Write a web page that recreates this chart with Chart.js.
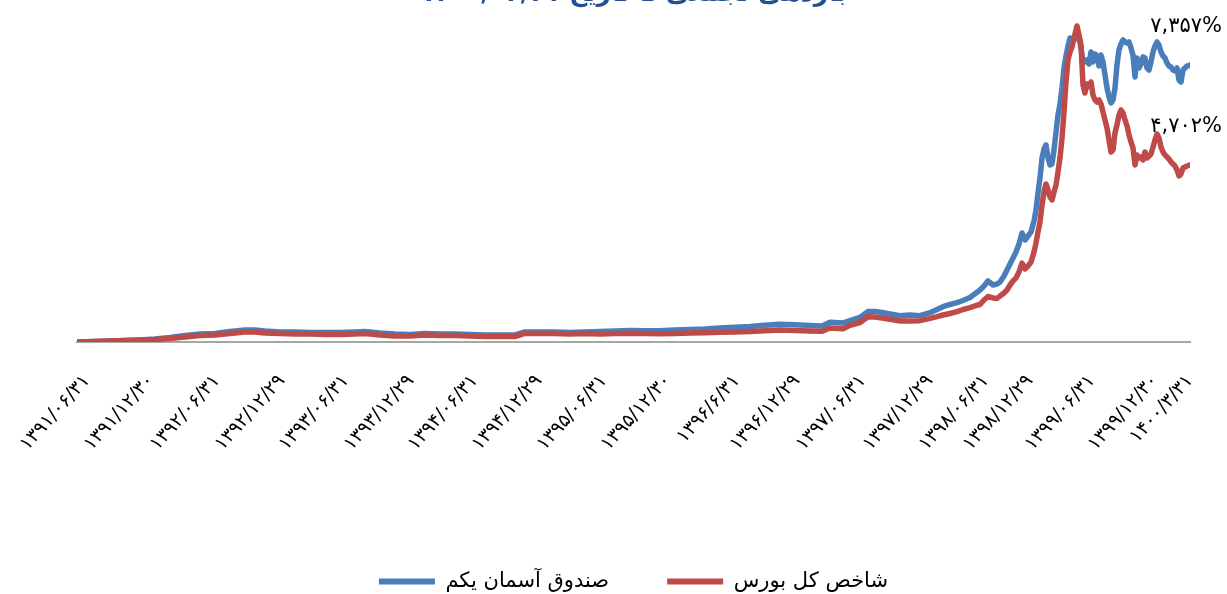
<!DOCTYPE html>
<html lang="fa">
<head>
<meta charset="utf-8">
<title>بازدهی صندوق آسمان یکم و شاخص کل بورس</title>
<script src="https://cdn.jsdelivr.net/npm/chart.js"></script>
<style>
    html, body { margin: 0; padding: 0; background: #fff; overflow: hidden; }
    .wrap { position: relative; width: 1227px; height: 594px; overflow: hidden; }
    #myChart { position: absolute; left: 0; top: -18px; }
</style>
</head>
<body>
<div class="wrap">
    <canvas id="myChart" width="1227" height="620"></canvas>
</div>
<script>
// Data (sample index along the period, cumulative return in %)
const idx = [
    0, 18, 33, 48, 63, 78, 93, 108, 123, 138,
    153, 168, 178, 188, 203, 218, 233, 248, 263, 278,
    288, 303, 318, 333, 348, 363, 378, 393, 408, 423,
    438, 448, 463, 478, 493, 508, 523, 538, 553, 568,
    583, 598, 613, 628, 643, 658, 673, 688, 703, 718,
    733, 745, 753, 766, 773, 783, 791, 798, 805, 813,
    823, 833, 843, 853, 860, 866, 873, 880, 886, 893,
    899, 903, 907, 911, 916, 920, 923, 927, 930, 933,
    936, 939, 942, 945, 948, 951, 954, 957, 959, 961,
    963, 965, 967, 969, 971, 973, 975, 977, 979, 981,
    983, 985, 987, 989, 991, 993, 995, 997, 999, 1000,
    1002, 1004, 1006, 1008, 1010, 1012, 1014, 1016, 1018, 1020,
    1022, 1024, 1026, 1028, 1030, 1032, 1034, 1036, 1038, 1040,
    1042, 1044, 1046, 1048, 1050, 1052, 1054, 1056, 1058, 1060,
    1062, 1064, 1066, 1068, 1070, 1072, 1074, 1076, 1078, 1080,
    1082, 1084, 1086, 1088, 1090, 1092, 1094, 1096, 1098, 1100,
    1102, 1104, 1106, 1108, 1110, 1112, 1113
];

const fundReturn = [
    0, 13, 27, 40, 53, 80, 120, 173, 212, 226,
    279, 319, 319, 292, 266, 266, 252, 252, 252, 266,
    279, 239, 212, 199, 226, 212, 212, 199, 186, 186,
    186, 266, 266, 266, 252, 266, 279, 292, 305, 300,
    300, 319, 332, 345, 372, 390, 412, 444, 470, 457,
    438, 425, 523, 505, 566, 651, 810, 810, 784, 744,
    699, 717, 699, 778, 863, 938, 996, 1044, 1102, 1182,
    1301, 1381, 1487, 1620, 1514, 1540, 1594, 1753, 1912, 2072,
    2231, 2390, 2603, 2895, 2709, 2815, 2922, 3214, 3506, 3957,
    4356, 4887, 5126, 5232, 4887, 4701, 4728, 5100, 5578, 6029,
    6321, 6746, 7277, 7596, 7862, 8074, 7968, 8021, 8154, 8207,
    8074, 7809, 7437, 7437, 7490, 7384, 7702, 7437, 7649, 7596,
    7331, 7623, 7437, 7092, 6746, 6507, 6348, 6428, 6746, 7357,
    7755, 7915, 8021, 7968, 7941, 7968, 7809, 7623, 7038, 7543,
    7277, 7384, 7570, 7543, 7277, 7224, 7437, 7702, 7862, 7968,
    7888, 7702, 7596, 7543, 7410, 7331, 7304, 7224, 7198, 7277,
    6959, 6906, 7224, 7277, 7331, 7340, 7357
];

const indexReturn = [
    0, 13, 27, 40, 53, 66, 93, 133, 173, 186,
    226, 266, 266, 239, 226, 212, 212, 199, 199, 212,
    226, 186, 159, 159, 186, 173, 173, 159, 146, 146,
    146, 226, 226, 226, 212, 226, 212, 226, 231, 226,
    220, 226, 239, 247, 258, 266, 279, 300, 319, 305,
    292, 284, 372, 353, 444, 518, 672, 664, 637, 603,
    558, 558, 566, 629, 672, 717, 757, 805, 863, 911,
    969, 996, 1116, 1208, 1169, 1155, 1222, 1301, 1381, 1514,
    1620, 1700, 1859, 2098, 1939, 2019, 2125, 2390, 2629, 2922,
    3187, 3639, 3984, 4196, 4037, 3851, 3772, 3984, 4170, 4515,
    4887, 5418, 6109, 6906, 7490, 7702, 7835, 8074, 8287, 8393,
    8154, 7888, 6826, 6613, 6852, 6799, 6906, 6560, 6428, 6374,
    6428, 6321, 6109, 5896, 5684, 5365, 5046, 5100, 5551, 5764,
    6029, 6162, 6082, 5896, 5737, 5498, 5312, 5153, 4701, 4967,
    4887, 4914, 4834, 5046, 4887, 4940, 4993, 5179, 5365, 5524,
    5418, 5179, 5046, 4967, 4914, 4860, 4781, 4728, 4675, 4568,
    4409, 4462, 4621, 4648, 4675, 4695, 4702
];

// x axis labels and where they sit on the index
const tickIdx = [10, 74, 140, 205, 269, 334, 398, 462, 527, 591, 660, 720, 786, 853, 909, 953, 1015, 1078, 1113];
const tickLabels = [
    '۱۳۹۱/۰۶/۳۱', '۱۳۹۱/۱۲/۳۰', '۱۳۹۲/۰۶/۳۱', '۱۳۹۲/۱۲/۲۹', '۱۳۹۳/۰۶/۳۱',
    '۱۳۹۳/۱۲/۲۹', '۱۳۹۴/۰۶/۳۱', '۱۳۹۴/۱۲/۲۹', '۱۳۹۵/۰۶/۳۱', '۱۳۹۵/۱۲/۳۰',
    '۱۳۹۶/۶/۳۱', '۱۳۹۶/۱۲/۲۹', '۱۳۹۷/۰۶/۳۱', '۱۳۹۷/۱۲/۲۹', '۱۳۹۸/۰۶/۳۱',
    '۱۳۹۸/۱۲/۲۹', '۱۳۹۹/۰۶/۳۱', '۱۳۹۹/۱۲/۳۰', '۱۴۰۰/۳/۳۱'
];

const seriesNames = ['صندوق آسمان یکم', 'شاخص کل بورس'];
const endLabels = ['۷,۳۵۷%', '۴,۷۰۲%'];
const chartTitle = 'بازدهی تجمعی تا تاریخ ۱۴۰۰/۰۳/۳۱';

const BLUE = '#4A7EBB';
const RED = '#BE4B48';

function toPoints(values) {
    return values.map((v, i) => ({ x: idx[i], y: v }));
}

// Final value labels next to the line ends
const endLabelPlugin = {
    id: 'endLabels',
    afterDatasetsDraw(chart) {
        const ctx = chart.ctx;
        const yScale = chart.scales.y;
        ctx.save();
        ctx.font = '21px "DejaVu Sans"';
        ctx.fillStyle = '#000';
        ctx.textAlign = 'right';
        ctx.textBaseline = 'middle';
        chart.data.datasets.forEach((ds, i) => {
            const last = ds.data[ds.data.length - 1].y;
            ctx.fillText(endLabels[i], chart.chartArea.right + 32, yScale.getPixelForValue(last) - 38);
        });
        ctx.restore();
    }
};

Chart.defaults.font.family = '"DejaVu Sans", sans-serif';
Chart.defaults.color = '#000';

new Chart(document.getElementById('myChart'), {
    type: 'line',
    data: {
        datasets: [{
            label: seriesNames[0],
            data: toPoints(fundReturn),
            borderColor: BLUE,
            backgroundColor: BLUE,
            borderWidth: 5.5,
            order: 1
        }, {
            label: seriesNames[1],
            data: toPoints(indexReturn),
            borderColor: RED,
            backgroundColor: RED,
            borderWidth: 5.5,
            order: 0
        }]
    },
    options: {
        responsive: false,
        animation: false,
        devicePixelRatio: 1,
        elements: {
            point: { radius: 0 },
            line: { tension: 0, borderJoinStyle: 'round', borderCapStyle: 'round' }
        },
        layout: { padding: { left: 77, right: 37, top: 0, bottom: 0 } },
        scales: {
            x: {
                type: 'linear',
                min: 0,
                max: 1113,
                grid: { display: false, drawTicks: false },
                border: { display: true, color: '#A6A6A6', width: 2 },
                afterBuildTicks: (scale) => {
                    scale.ticks = tickIdx.map(v => ({ value: v }));
                },
                afterFit: (scale) => {
                    scale.height = 171;
                    scale.paddingLeft = 0;
                    scale.paddingRight = 0;
                },
                ticks: {
                    autoSkip: false,
                    maxRotation: 48,
                    minRotation: 48,
                    padding: 28,
                    color: '#000',
                    font: { size: 19 },
                    callback: (value, i) => tickLabels[i]
                }
            },
            y: {
                display: false,
                min: 0,
                max: 8790
            }
        },
        plugins: {
            title: {
                display: true,
                text: chartTitle,
                color: '#24508F',
                font: { size: 25, weight: 'bold', lineHeight: 1 },
                padding: { top: 0, bottom: 4 }
            },
            legend: {
                position: 'bottom',
                labels: {
                    boxWidth: 56,
                    boxHeight: 6,
                    padding: 58,
                    color: '#000',
                    font: { size: 21 },
                    sort: (a, b) => a.datasetIndex - b.datasetIndex,
                    generateLabels: (chart) =>
                        Chart.defaults.plugins.legend.labels.generateLabels(chart).map(l => ({ ...l, lineWidth: 0 }))
                }
            },
            tooltip: { enabled: false }
        }
    },
    plugins: [endLabelPlugin]
});
</script>
</body>
</html>
